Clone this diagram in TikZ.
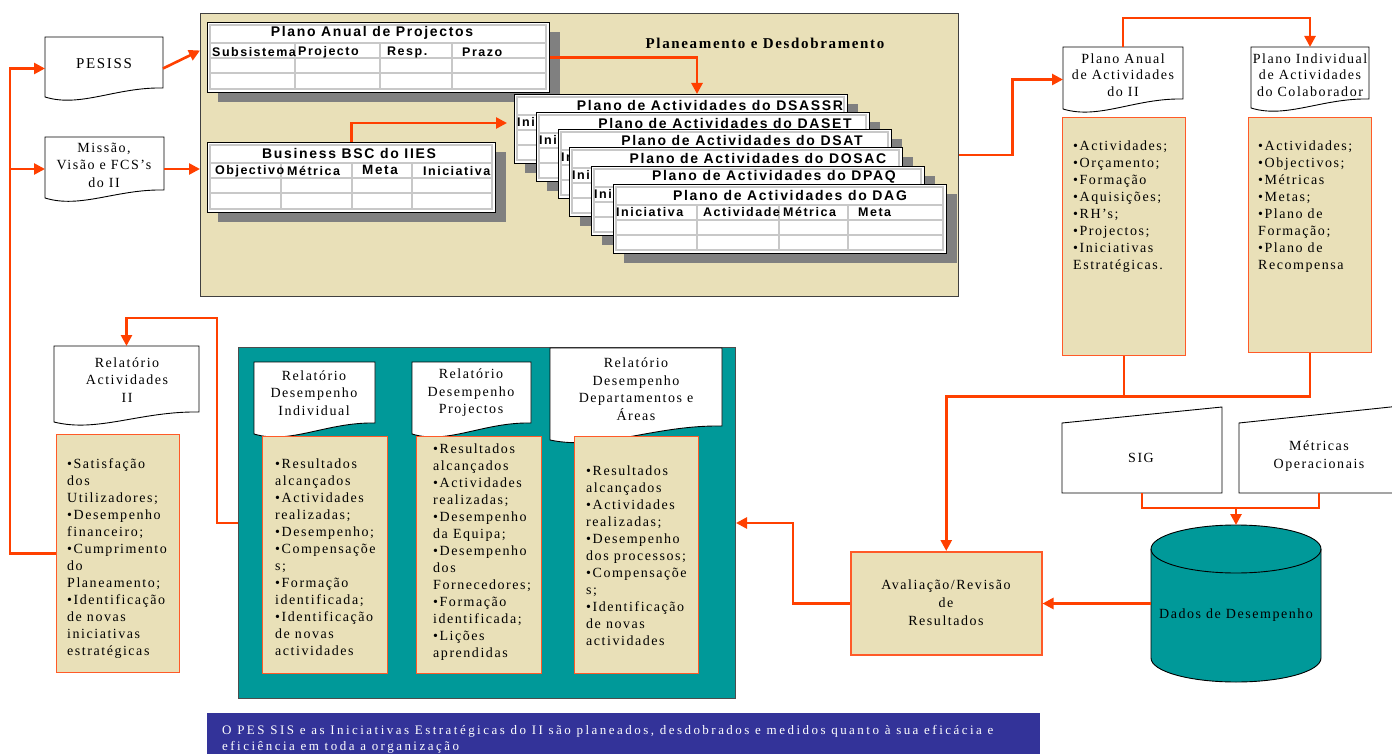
\documentclass[tikz,border=0pt]{standalone}
\usepackage{fontspec}
\setmainfont{Liberation Serif}
\newfontfamily\serifsp{Liberation Serif}[LetterSpace=11]
\newfontfamily\bannerfont{Liberation Serif}[LetterSpace=19]
\newfontfamily\sanssp{Liberation Sans}[LetterSpace=12]
\usetikzlibrary{arrows.meta,calc}
\definecolor{paper}{HTML}{E9E0B8}
\definecolor{linkred}{HTML}{FF4000}
\definecolor{boxline}{HTML}{FF5A28}
\definecolor{tealfill}{HTML}{009999}
\definecolor{bannerblue}{HTML}{333399}
\definecolor{shadowgray}{HTML}{808080}
\definecolor{gridgray}{HTML}{C8C8C8}
\definecolor{planborder}{HTML}{404040}

\tikzset{
  wire/.style={draw=linkred, line width=2.6pt},
  arrowwire/.style={wire, -{Triangle[length=11pt,width=11pt]}},
  docshape/.style={draw=black, fill=white, line width=0.9pt},
  doctext/.style={font=\serifsp\fontsize{14}{17.5}\selectfont, align=center, inner sep=0pt},
  hook/.style={inner sep=0pt, outer sep=0pt, draw=none},
  listbox/.style={draw=boxline, fill=paper, line width=1.2pt, inner sep=0pt, anchor=north west},
  listtext/.style={font=\serifsp\fontsize{14}{17}\selectfont, align=left, anchor=north west, inner sep=0pt},
  tabframe/.style={draw=black, fill=white, line width=1pt, inner sep=0pt, anchor=north west},
  gridline/.style={draw=gridgray, line width=1.6pt},
  tabtitle/.style={font=\sanssp\bfseries\fontsize{14}{16}\selectfont, inner sep=0pt},
  tabhead/.style={font=\sanssp\bfseries\fontsize{12.5}{14}\selectfont, inner sep=0pt, anchor=west},
}

% document symbol: white sheet with a wavy lower edge, plus a named frame
\newcommand\docframe[6]{%
  \path[docshape] (#2,#3) -- (#4,#3) -- (#4,#6)
    .. controls ({#2+0.6*(#4-#2)},{#6-1}) and ({#2+0.3*(#4-#2)},{#5+11}) .. (#2,#5) -- cycle;
  \node[hook, anchor=north west, minimum width={#4-#2}, minimum height={#5+3-#3}] (#1) at (#2,#3) {};
}

% table card with drop shadow, inner frame, row and column rules
\newcommand\gridtable[8]{%
  \fill[shadowgray] ({#2+11},{#3+10}) rectangle ({#4+11},{#5+10});
  \node[tabframe, minimum width={#4-#2}, minimum height={#5-#3}] (#1) at (#2,#3) {};
  \draw[gridline] ({#2+3},{#3+3}) rectangle ({#4-3},{#5-3});
  \draw[gridline] ({#2+3},{#3+21}) -- ({#4-3},{#3+21})
    ({#2+3},{#3+36}) -- ({#4-3},{#3+36})
    ({#2+3},{#3+51}) -- ({#4-3},{#3+51})
    (#6,{#3+21}) -- (#6,{#5-3})
    (#7,{#3+21}) -- (#7,{#5-3})
    (#8,{#3+21}) -- (#8,{#5-3});
}

\begin{document}
\begin{tikzpicture}[x=1pt,y=-1pt]
\useasboundingbox (0,0) rectangle (1392,754);

% ---------- planning panel ----------
\node[draw=planborder, fill=paper, line width=1.2pt, inner sep=0pt, anchor=north west,
      minimum width=758, minimum height=283] (plan) at (200,13) {};
\node[font=\serifsp\bfseries\fontsize{15}{18}\selectfont, inner sep=0pt] (plantitle) at (765,43) {Planeamento e Desdobramento};

\gridtable{ppa}{207}{22}{549}{92}{295}{380}{452}
\node[tabtitle] (ppatitle) at (372,33) {Plano Anual de Projectos};
\node[tabhead] (ppah1) at (212,52) {Subsistema};
\node[tabhead] (ppah2) at (298,52) {Projecto};
\node[tabhead] (ppah3) at (387,52) {Resp.};
\node[tabhead] (ppah4) at (462,52) {Prazo};

\gridtable{bsc}{207}{142}{495}{212}{281}{352}{412}
\node[tabtitle] (bsctitle) at (349,153) {Business BSC do IIES};
\node[tabhead] (bsch1) at (215,171) {Objectivo};
\node[tabhead] (bsch2) at (287,171) {Métrica};
\node[tabhead, font=\sanssp\bfseries\fontsize{13.5}{15}\selectfont] (bsch3) at (362,170) {Meta};
\node[tabhead] (bsch4) at (423,171) {Iniciativa};

% stacked department plans: each one hides all but the first letters of the one behind
\foreach \nm/\xa/\ya/\cx/\dep/\nx in {t1/514/94/710/DSASSR/536, t2/536/112/725/DASET/558,
    t3/558/129/742/DSAT/569, t4/569/147/758/DOSAC/591, t5/591/166/774/DPAQ/613}{
  \gridtable{\nm}{\xa}{\ya}{\xa+333}{\ya+69}{\xa+84}{\xa+166}{\xa+235}
  \node[tabtitle] (\nm-title) at (\cx,\ya+11) {Plano de Actividades do \dep};
  \begin{scope}
    \clip (\xa,\ya) rectangle (\nx,\ya+69);
    \node[tabhead] (\nm-h1) at (\xa+3,\ya+28) {Iniciativa};
  \end{scope}
}
\gridtable{t6}{613}{184}{946}{253}{697}{779}{848}
\node[tabtitle] (t6-title) at (790,195) {Plano de Actividades do DAG};
\node[tabhead] (t6-h1) at (616,212) {Iniciativa};
\node[tabhead] (t6-h2) at (703,212) {Actividade};
\node[tabhead] (t6-h3) at (783,212) {Métrica};
\node[tabhead] (t6-h4) at (858,212) {Meta};

\draw[arrowwire] (ppa.east) -| ([xshift=16pt]t1.north);
\draw[arrowwire, shorten >=7pt] (bsc.north) |- ([yshift=6pt]t1.west);

% ---------- left column ----------
\docframe{pesiss}{45}{37}{163}{97}{88}
\node[doctext, font=\serifsp\fontsize{15}{18}\selectfont] (pesisslabel) at (104,64) {PESISS};
\docframe{missao}{45}{137}{164}{198}{190}
\node[doctext] (missaolabel) at (104,165) {Missão,\\Visão e FCS’s\\do II};

\draw[arrowwire] (pesiss.east) -- ([shift={(-7pt,7pt)}]ppa.west);
\draw[arrowwire] (missao.east) -- (missao.east -| plan.west);

\docframe{relII}{54}{346}{199}{422}{412}
\node[doctext] (relIIlabel) at (127,380) {Relatório\\Actividades\\II};
\node[listbox, minimum width=123, minimum height=238] (relbox) at (56,434) {};
\node[listtext] (relboxtext) at (67,458) {•Satisfação\\dos\\Utilizadores;\\•Desempenho\\financeiro;\\•Cumprimento\\do\\Planeamento;\\•Identificação\\de novas\\iniciativas\\estratégicas};

\draw[arrowwire] (relbox.west) -| ([xshift=-35pt]pesiss.west) -- (pesiss.west);
\draw[arrowwire] ([xshift=-35pt]missao.west) -- (missao.west);

% ---------- report panel ----------
\node[draw=black!70, fill=tealfill, line width=1pt, inner sep=0pt, anchor=north west,
      minimum width=497, minimum height=351] (teal) at (238,347) {};

\docframe{rdi}{254}{362}{375}{434}{423}
\node[doctext] (rdilabel) at (314,393) {Relatório\\Desempenho\\Individual};
\node[listbox, minimum width=125, minimum height=237] (rb1) at (262,436) {};
\node[listtext] (rb1text) at (275,459) {•Resultados\\alcançados\\•Actividades\\realizadas;\\•Desempenho;\\•Compensaçõe\\s;\\•Formação\\identificada;\\•Identificação\\de novas\\actividades};

\docframe{rdp}{412}{362}{531}{434}{423}
\node[doctext] (rdplabel) at (471,393) {Relatório\\Desempenho\\Projectos};
\node[listbox, minimum width=125, minimum height=237] (rb2) at (416,436) {};
\node[listtext] (rb2text) at (433,444) {•Resultados\\alcançados\\•Actividades\\realizadas;\\•Desempenho\\da Equipa;\\•Desempenho\\dos\\Fornecedores;\\•Formação\\identificada;\\•Lições\\aprendidas};

\docframe{rdd}{550}{348}{722}{440}{426}
\node[doctext] (rddlabel) at (636,389) {Relatório\\Desempenho\\Departamentos e\\Áreas};
\node[listbox, minimum width=124, minimum height=237] (rb3) at (574,436) {};
\node[listtext] (rb3text) at (586,466) {•Resultados\\alcançados\\•Actividades\\realizadas;\\•Desempenho\\dos processos;\\•Compensaçõe\\s;\\•Identificação\\de novas\\actividades};

\draw[arrowwire] (teal.west) -- ++(-21,0) |- ([yshift=28pt]relII.north) -- (relII.north);

% ---------- right column ----------
\docframe{paa}{1063}{47}{1183}{109}{99}
\node[doctext, font=\serifsp\fontsize{14}{16.5}\selectfont] (paalabel) at (1123,75) {Plano Anual\\de Actividades\\do II};
\docframe{pia}{1251}{47}{1369}{108}{99}
\node[doctext, font=\serifsp\fontsize{14}{16.5}\selectfont] (pialabel) at (1310,75) {Plano Individual\\de Actividades\\do Colaborador};

\node[listbox, minimum width=123, minimum height=238] (box1) at (1062,117) {};
\node[listtext] (box1text) at (1073,141) {•Actividades;\\•Orçamento;\\•Formação\\•Aquisições;\\•RH’s;\\•Projectos;\\•Iniciativas\\Estratégicas.};
\node[listbox, minimum width=123, minimum height=235] (box2) at (1248,117) {};
\node[listtext] (box2text) at (1258,141) {•Actividades;\\•Objectivos;\\•Métricas\\•Metas;\\•Plano de\\Formação;\\•Plano de\\Recompensa};

\draw[arrowwire] (plan.east) -- ++(53,0) |- (paa.west);
\draw[arrowwire] (paa.north) -- ++(0,-29) -| (pia.north);

% evaluation
\node[listbox, line width=1.5pt, minimum width=191, minimum height=103] (aval) at (850,551) {};
\node[doctext, font=\serifsp\fontsize{14}{18}\selectfont] (avallabel) at (946,603) {Avaliação/Revisão\\de\\Resultados};

\draw[wire] (box1.south) -- ([yshift=-40pt]box1.south);
\draw[arrowwire] (box2.south) |- ([yshift=-40pt]box1.south) -| (aval.north);

% data sources
\path[docshape] (1062,423) -- (1222,407) -- (1222,493) -- (1062,493) -- cycle;
\node[hook, anchor=north west, minimum width=160, minimum height=86] (sig) at (1062,407) {};
\node[doctext] (siglabel) at (1141,458) {SIG};
\path[docshape] (1239,423) -- (1400,406) -- (1400,493) -- (1239,493) -- cycle;
\node[hook, anchor=north west, minimum width=160, minimum height=87] (met) at (1239,406) {};
\node[doctext] (metlabel) at (1319,456) {Métricas\\Operacionais};

% data store
\path[draw=black, fill=tealfill, line width=0.9pt]
  (1151,549) -- (1151,658)
  .. controls (1151,671.3) and (1189.1,682) .. (1236,682)
  .. controls (1282.9,682) and (1321,671.3) .. (1321,658)
  -- (1321,549)
  .. controls (1321,535.7) and (1282.9,525) .. (1236,525)
  .. controls (1189.1,525) and (1151,535.7) .. (1151,549) -- cycle;
\draw[black, line width=0.9pt] (1151,549)
  .. controls (1151,562.3) and (1189.1,573) .. (1236,573)
  .. controls (1282.9,573) and (1321,562.3) .. (1321,549);
\node[hook, anchor=north west, minimum width=170, minimum height=157] (dados) at (1151,525) {};
\node[doctext] (dadoslabel) at (1236,615) {Dados de Desempenho};

\draw[wire] (sig.south) -- ([yshift=-15pt]sig.south) -| (met.south);
\draw[arrowwire] ([yshift=17pt]dados.north) -- (dados.north);
\draw[arrowwire] (dados.west) -- (dados.west -| aval.east);
\draw[arrowwire] (aval.west) -- ++(-57,0) |- (teal.east);

% ---------- caption band ----------
\node[fill=bannerblue, inner sep=0pt, anchor=north west, minimum width=833, minimum height=45] (banner) at (207,713) {};
\node[font=\bannerfont\fontsize{13}{16}\selectfont, text=white, align=left, anchor=north west, inner sep=0pt] (bannertext) at (222,725)
  {O PES SIS e as Iniciativas Estratégicas do II são planeados, desdobrados e medidos quanto à sua eficácia e\\eficiência em toda a organização};
\end{tikzpicture}
\end{document}
